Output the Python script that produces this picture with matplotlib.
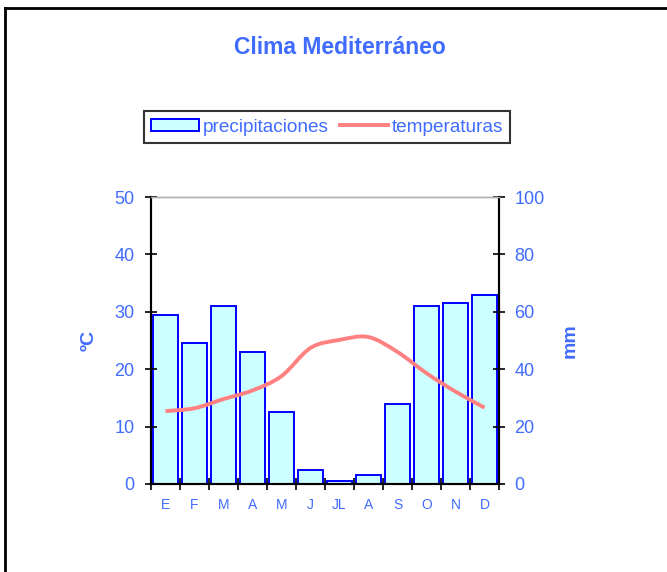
import matplotlib
matplotlib.use('Agg')
import matplotlib.pyplot as plt
from matplotlib.path import Path
from matplotlib.patches import PathPatch, Patch
from matplotlib.lines import Line2D

plt.rcParams['font.family'] = ['Liberation Sans', 'DejaVu Sans']

meses = ['E', 'F', 'M', 'A', 'M', 'J', 'JL', 'A', 'S', 'O', 'N', 'D']
precipitaciones = [59, 49, 62, 46, 25, 5, 1.2, 3.1, 28, 62, 63, 66]
temperaturas = [12.7, 13.2, 14.8, 16.3, 18.8, 23.7, 25.1, 25.6, 23.0, 19.3, 16.1, 13.3]

azul = '#3f6bff'
rosa = '#ff8080'

fig = plt.figure(figsize=(6.67, 5.72), dpi=100)
ax = fig.add_axes([151/667, 1-484/572, 348/667, 287/572])
ax2 = ax.twinx()

x = list(range(len(meses)))
ax2.bar(x, precipitaciones, width=0.85, color='#ccffff', edgecolor='#0000ff', linewidth=1.4)

# linea suavizada (bezier tipo excel)
pts = list(zip(x, temperaturas))
verts = [pts[0]]
codes = [Path.MOVETO]
n = len(pts)
for i in range(n - 1):
    p0 = pts[max(i - 1, 0)]
    p1 = pts[i]
    p2 = pts[i + 1]
    p3 = pts[min(i + 2, n - 1)]
    c1 = (p1[0] + (p2[0] - p0[0]) / 6, p1[1] + (p2[1] - p0[1]) / 6)
    c2 = (p2[0] - (p3[0] - p1[0]) / 6, p2[1] - (p3[1] - p1[1]) / 6)
    verts += [c1, c2, p2]
    codes += [Path.CURVE4] * 3
ax.add_patch(PathPatch(Path(verts, codes), facecolor='none', edgecolor=rosa, lw=2.8))

ax.set_zorder(ax2.get_zorder() + 1)
ax.patch.set_visible(False)

ax.set_xlim(-0.5, 11.5)
ax.set_ylim(0, 50)
ax2.set_ylim(0, 100)
ax.set_yticks(range(0, 51, 10))
ax2.set_yticks(range(0, 101, 20))
ax.set_xticks([i - 0.5 for i in range(13)])
ax.set_xticklabels([])
ax.set_xticks(x, minor=True)
ax.set_xticklabels(meses, minor=True)

ax.tick_params(axis='x', which='major', direction='inout', length=8, width=1.2, color='black')
ax.tick_params(axis='x', which='minor', length=0, pad=10, labelsize=10, labelcolor=azul)
ax.tick_params(axis='y', direction='inout', length=8, width=1.2, labelsize=13, labelcolor=azul, pad=8)
ax2.tick_params(axis='y', direction='inout', length=8, width=1.2, labelsize=13, labelcolor=azul, pad=7)

for a in (ax, ax2):
    a.spines['top'].set_color('#b0b0b0')
    a.spines['top'].set_linewidth(1)
    for s in ('left', 'right', 'bottom'):
        a.spines[s].set_linewidth(1.5)

ax.set_ylabel('ºC', color=azul, fontsize=14, fontweight='bold', labelpad=12)
ax2.set_ylabel('mm', color=azul, fontsize=14, fontweight='bold', labelpad=12, rotation=90)

fig.text(340/667, 1-47/572, 'Clima Mediterráneo', color=azul, fontsize=16.5,
         fontweight='bold', ha='center', va='center')

handles = [Patch(facecolor='#ccffff', edgecolor='#0000ff', linewidth=1.4),
           Line2D([0], [0], color=rosa, lw=2.8)]
leg = fig.legend(handles, ['precipitaciones', 'temperaturas'], ncol=2,
                 loc='center', bbox_to_anchor=(327/667, 1-127/572),
                 fontsize=13.7, frameon=True, fancybox=False, shadow=False,
                 handlelength=2.5, handleheight=0.55, handletextpad=0.2,
                 columnspacing=0.6, borderpad=0.4, labelcolor=azul)
leg.get_frame().set_edgecolor('black')
leg.get_frame().set_linewidth(1.5)

# marco exterior
fig.add_artist(Line2D([5/667, 5/667], [0, 1-8/572], color='black', lw=2, transform=fig.transFigure))
fig.add_artist(Line2D([5/667, 1], [1-8/572, 1-8/572], color='black', lw=2, transform=fig.transFigure))

fig.savefig('out.png', dpi=100)
